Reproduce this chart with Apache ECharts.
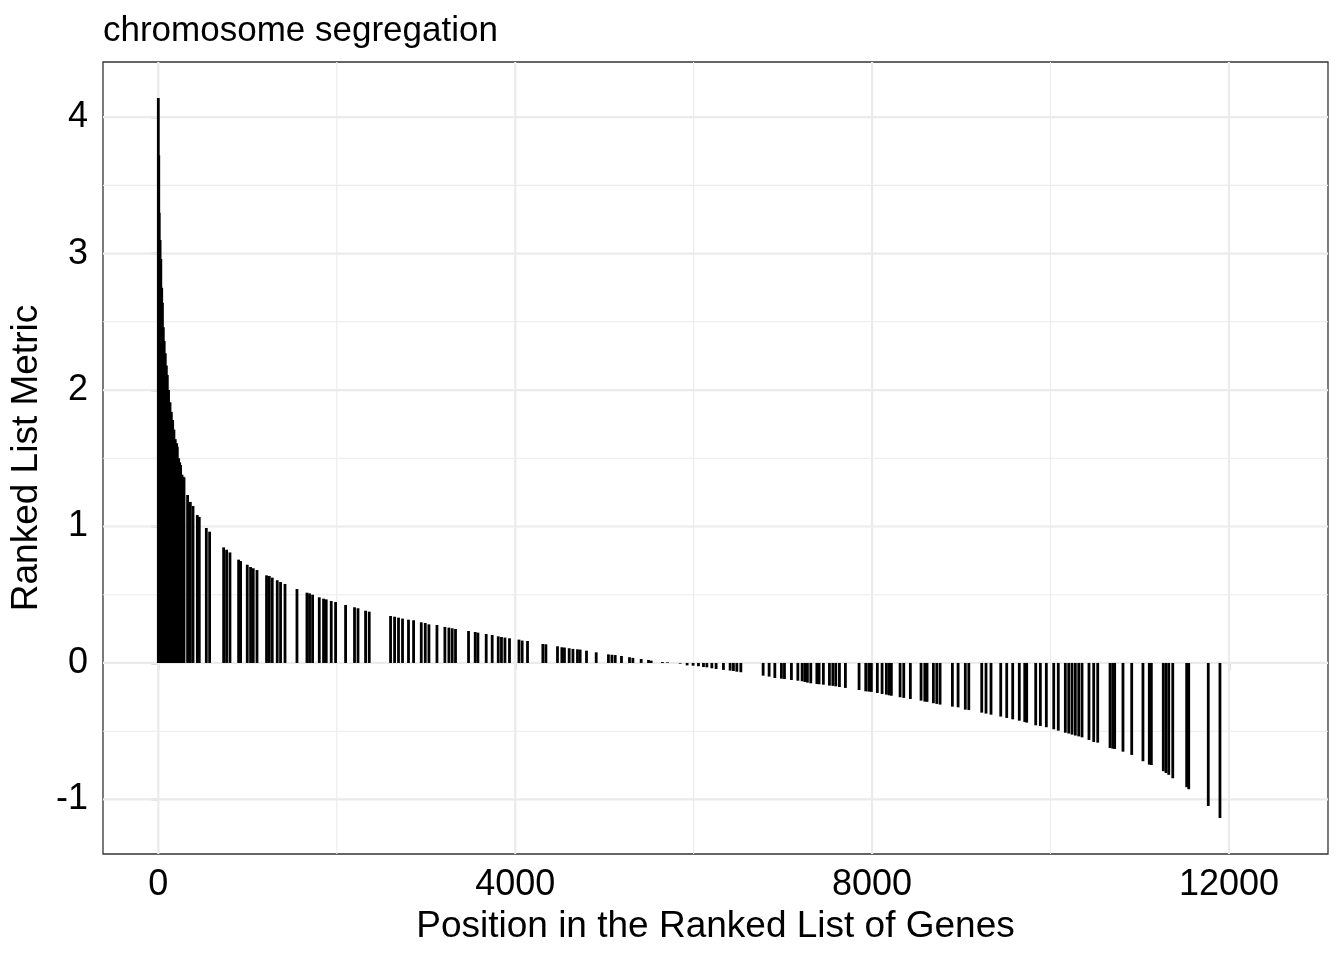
<!DOCTYPE html>
<html><head><meta charset="utf-8">
<script src="https://cdn.jsdelivr.net/npm/echarts@6/dist/echarts.min.js"></script>
<style>html,body{margin:0;padding:0;background:#fff}#chart{width:1344px;height:960px}</style>
</head><body><div id="chart"></div>
<script>
// ---- text ----
const chartTitle = 'chromosome segregation';
const xAxisTitle = 'Position in the Ranked List of Genes';
const yAxisTitle = 'Ranked List Metric';

// ---- data: position of each gene of the set in the ranked list, and its metric ----
const genePositions = [
  0,5,10,20,28,38,46,56,66,78,90,101,115,131,146,161,175,190,205,213,228,240,250,265,278,288,
  328,359,389,437,459,538,575,732,765,803,900,922,997,1034,1064,1106,1213,1244,1277,1333,1370,1420,
  1554,1666,1695,1729,1804,1852,1882,1938,1987,2099,2199,2238,2323,2364,
  2603,2648,2692,2737,2804,2861,2947,2992,3033,3123,3212,3257,3294,3331,3477,
  3552,3582,3675,3742,3810,3846,3885,3936,4042,4078,4138,4310,4344,4474,4523,4552,4605,4647,4698,4728,
  4799,4908,5045,5084,5121,5191,5281,5319,5412,5494,5524,5650,5707,
  5849,5927,5994,6054,6110,6148,6204,6252,6334,6409,6446,6484,6529,
  6779,6846,6910,6984,7018,7096,7168,7216,7246,7275,7313,7381,7406,7454,7522,7560,7593,7634,7701,
  7854,7929,7963,7992,8059,8112,8160,8190,8216,8314,8355,8429,8549,8591,8616,8687,8725,8762,
  8900,8964,9045,9084,9229,9277,9333,9442,9509,
  9576,9650,9711,9733,9834,9886,9953,10036,10087,10166,10204,10241,10278,10316,10353,
  10431,10484,10529,10667,10697,10719,10812,10910,11036,11107,11130,11264,11294,11325,11370,
  11526,11549,11768,11899
];
const metricValues = [
  4.14,3.72,3.30,3.10,2.96,2.75,2.64,2.46,2.36,2.27,2.18,2.11,2.00,1.91,1.84,1.78,1.71,1.64,1.61,1.585,1.50,1.47,1.45,1.38,1.365,1.36,
  1.231,1.18,1.15,1.084,1.07,0.989,0.962,0.847,0.83,0.81,0.757,0.747,0.72,0.703,0.694,0.681,0.642,0.637,0.625,0.606,0.593,0.579,
  0.542,0.515,0.51,0.50,0.481,0.471,0.466,0.454,0.447,0.425,0.408,0.401,0.383,0.376,
  0.344,0.339,0.332,0.325,0.317,0.313,0.298,0.293,0.283,0.278,0.264,0.259,0.254,0.249,0.234,
  0.227,0.222,0.212,0.205,0.195,0.19,0.186,0.181,0.171,0.164,0.161,0.139,0.137,0.122,0.115,0.113,0.108,0.103,0.10,0.098,
  0.09,0.078,0.063,0.06,0.058,0.051,0.042,0.037,0.029,0.022,0.017,0.007,0.005,
  -0.005,-0.018,-0.02,-0.024,-0.03,-0.032,-0.039,-0.044,-0.051,-0.056,-0.059,-0.064,-0.068,
  -0.093,-0.10,-0.11,-0.115,-0.118,-0.125,-0.13,-0.134,-0.139,-0.144,-0.149,-0.154,-0.156,-0.159,-0.166,-0.168,-0.171,-0.176,-0.183,
  -0.198,-0.208,-0.21,-0.212,-0.22,-0.227,-0.232,-0.237,-0.24,-0.251,-0.256,-0.264,-0.276,-0.283,-0.285,-0.295,-0.30,-0.305,
  -0.32,-0.325,-0.342,-0.345,-0.364,-0.371,-0.379,-0.393,-0.403,
  -0.413,-0.423,-0.433,-0.437,-0.457,-0.462,-0.471,-0.486,-0.496,-0.511,-0.517,-0.525,-0.532,-0.538,-0.545,
  -0.564,-0.579,-0.584,-0.623,-0.628,-0.63,-0.65,-0.674,-0.72,-0.745,-0.748,-0.793,-0.806,-0.82,-0.845,
  -0.91,-0.925,-1.048,-1.136
];

// ---- axes ----
const xMajorTicks = [0, 4000, 8000, 12000];
const xMinorGrid = [2000, 6000, 10000];
const yMajorTicks = [-1, 0, 1, 2, 3, 4];
const yMinorGrid = [-0.5, 0.5, 1.5, 2.5, 3.5];
const X_MIN = -620, X_MAX = 13110;
const Y_MIN = -1.40, Y_MAX = 4.404;

const FONT = 'Liberation Sans, Arial, Helvetica, sans-serif';

const barData = genePositions.map((p, i) => [p, metricValues[i]]);
const gridData = [];
xMajorTicks.forEach(v => gridData.push([v, 0, 1]));
xMinorGrid.forEach(v => gridData.push([v, 0, 0]));
yMajorTicks.forEach(v => gridData.push([v, 1, 1]));
yMinorGrid.forEach(v => gridData.push([v, 1, 0]));

function renderGrid(params, api) {
  const v = api.value(0), dir = api.value(1), major = api.value(2);
  let p1, p2;
  if (dir === 0) { p1 = api.coord([v, Y_MIN]); p2 = api.coord([v, Y_MAX]); }
  else { p1 = api.coord([X_MIN, v]); p2 = api.coord([X_MAX, v]); }
  return {
    type: 'line',
    shape: { x1: p1[0], y1: p1[1], x2: p2[0], y2: p2[1] },
    style: { stroke: '#EBEBEB', lineWidth: major ? 2.2 : 1.1 }
  };
}

function renderBar(params, api) {
  const x = api.value(0), y = api.value(1);
  const p0 = api.coord([x, 0]);
  const p1 = api.coord([x, y]);
  const w = 2.8;
  return {
    type: 'rect',
    shape: { x: p0[0] - w / 2, y: Math.min(p0[1], p1[1]), width: w, height: Math.abs(p1[1] - p0[1]) },
    style: { fill: '#000000' }
  };
}

const chart = echarts.init(document.getElementById('chart'), null, { renderer: 'canvas' });
chart.setOption({
  animation: false,
  backgroundColor: '#ffffff',
  title: {
    text: chartTitle, left: 103, top: 14, padding: 0,
    textStyle: { fontFamily: FONT, fontSize: 35, fontWeight: 'normal', color: '#000' }
  },
  grid: {
    left: 103, right: 16, top: 62, bottom: 106, containLabel: false,
    show: true, borderColor: '#333333', borderWidth: 1.3, backgroundColor: '#ffffff'
  },
  xAxis: {
    type: 'value', min: X_MIN, max: X_MAX,
    name: xAxisTitle, nameLocation: 'middle', nameGap: 51,
    nameTextStyle: { fontFamily: FONT, fontSize: 37, color: '#000', verticalAlign: 'top' },
    axisLine: { show: false },
    axisTick: { show: true, length: 7, customValues: xMajorTicks, lineStyle: { color: '#333333', width: 1.3 } },
    axisLabel: { show: true, customValues: xMajorTicks, margin: 13, fontFamily: FONT, fontSize: 36, color: '#000',
      formatter: v => String(v) },
    splitLine: { show: false }
  },
  yAxis: {
    type: 'value', min: Y_MIN, max: Y_MAX,
    name: yAxisTitle, nameLocation: 'middle', nameGap: 57, nameRotate: 90,
    nameTextStyle: { fontFamily: FONT, fontSize: 37, color: '#000' },
    axisLine: { show: false },
    axisTick: { show: true, length: 7, customValues: yMajorTicks, lineStyle: { color: '#333333', width: 1.3 } },
    axisLabel: { show: true, customValues: yMajorTicks, margin: 15, fontFamily: FONT, fontSize: 36, color: '#000',
      formatter: v => String(v) },
    splitLine: { show: false }
  },
  series: [
    { type: 'custom', name: 'grid', renderItem: renderGrid, data: gridData, z: 1, silent: true, clip: false,
      encode: { x: 0, y: 1 } },
    { type: 'custom', name: 'genes', renderItem: renderBar, data: barData, z: 2, silent: true,
      encode: { x: 0, y: 1 } }
  ]
});
</script>
</body></html>
